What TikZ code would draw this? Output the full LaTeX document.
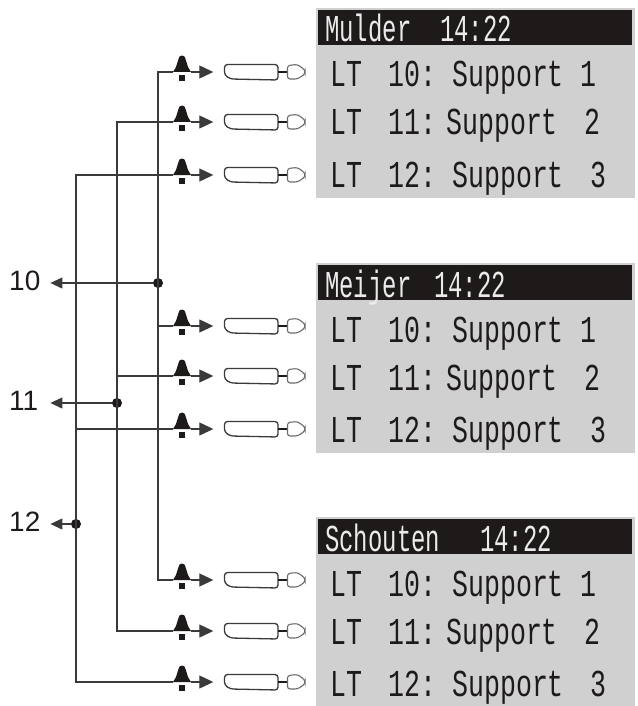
\documentclass[tikz,border=0pt]{standalone}
\usepackage{fontspec}
\setmainfont{Liberation Sans}
\newfontfamily\lcdfont[FakeStretch=0.7]{Liberation Mono}
\newfontfamily\lcdheadfont[FakeStretch=0.63]{Liberation Mono}
\usetikzlibrary{arrows.meta}
\definecolor{ink}{HTML}{3A3A3A}
\definecolor{panelgray}{HTML}{D0D0D0}
\definecolor{headblack}{HTML}{1E1A1A}
\tikzset{
  x=1pt,y=-1pt,
  wire/.style={draw=ink,line width=1.1pt},
  tipwire/.style={wire,-{Triangle[length=14pt,width=13pt]}},
  labeltipwire/.style={wire,-{Triangle[length=12pt,width=11pt]}},
  junction/.style={circle,fill=headblack,inner sep=0pt,minimum size=10pt},
  numlabel/.style={font=\fontsize{28}{28}\selectfont,text=headblack,inner sep=0pt,text width=41pt,align=left,anchor=west},
  bellnode/.style={inner sep=0pt,minimum width=18pt,minimum height=40pt,
    path picture={
      \fill[headblack] (-9pt,0pt) -- (-6pt,5pt) -- (-3.5pt,13pt) arc[start angle=180,end angle=0,radius=3.5pt] -- (6pt,5pt) -- (9pt,0pt) -- cycle;
      \fill[headblack] (-3pt,-3pt) rectangle (3pt,-9pt);
    }},
  handset/.style={inner sep=0pt,minimum width=84pt,minimum height=22pt,
    path picture={
      \draw[ink,line width=1.3pt,fill=white,rounded corners=3pt] (-40pt,7.5pt) -- (13.5pt,7.5pt) -- (13.5pt,-8pt) -- (-34pt,-7pt) -- (-40pt,-3pt) -- cycle;
      \draw[headblack,line width=2.6pt] (13.5pt,0pt) -- (23pt,0pt);
      \draw[ink!75,line width=1.1pt,fill=white,rounded corners=2.5pt] (23pt,6.5pt) -- (33pt,7.5pt) -- (40.5pt,2pt) -- (40.5pt,-2pt) -- (33pt,-7pt) -- (23pt,-7pt) -- cycle;
    }},
  panel/.style={fill=panelgray,inner sep=0pt,anchor=north west,minimum width=319pt,minimum height=190pt},
  header/.style={fill=headblack,inner sep=0pt,anchor=north west,minimum width=314pt,minimum height=35pt},
  lcd/.style={font=\lcdfont\fontsize{38}{38}\selectfont,text=headblack,inner sep=0pt,anchor=base west},
  lcdhead/.style={font=\lcdheadfont\fontsize{38}{38}\selectfont,inner sep=0pt,anchor=base west,text=white!92!black},
}
\newcommand{\callrow}[2]{%
  \node[bellnode] (b#1) at (182,#2) {};
  \node[handset] (h#1) at (264.5,#2) {};
  \draw[tipwire] (b#1.east) -- ([xshift=-9pt]h#1.west);
}
\newcommand{\panelblock}[4]{% id, top y, name, clock x
  \node[panel] (p#1) at (316,#2) {};
  \node[header] (hd#1) at (318,#2+2) {};
  \node[lcdhead] (nm#1) at (325,#2+34) {#3};
  \node[lcdhead] (ck#1) at (#4,#2+34) {14:22};
  \node[lcd] (ra#1) at (330,#2+79) {LT};
  \node[lcd] (rb#1) at (330,#2+127) {LT};
  \node[lcd] (rc#1) at (330,#2+179) {LT};
  \node[lcd] (na#1) at (388,#2+79) {10:};
  \node[lcd] (nb#1) at (388,#2+127) {11:};
  \node[lcd] (nc#1) at (388,#2+179) {12:};
  \node[lcd] (sa#1) at (452,#2+79) {Support};
  \node[lcd] (sb#1) at (446,#2+127) {Support};
  \node[lcd] (sc#1) at (452,#2+179) {Support};
  \node[lcd] (da#1) at (580,#2+79) {1};
  \node[lcd] (db#1) at (584,#2+127) {2};
  \node[lcd] (dc#1) at (590,#2+179) {3};
}
\begin{document}
\begin{tikzpicture}
\useasboundingbox (0,0) rectangle (637,706);
\panelblock{A}{8}{Mulder}{440}
\panelblock{B}{263}{Meijer}{434}
\panelblock{C}{517}{Schouten}{480}
\callrow{1}{72}
\callrow{2}{122}
\callrow{3}{175}
\callrow{4}{326}
\callrow{5}{376}
\callrow{6}{429}
\callrow{7}{580}
\callrow{8}{631}
\callrow{9}{682}
\node[junction] (j10) at (158,283) {};
\node[junction] (j11) at (117,403) {};
\node[junction] (j12) at (76,524) {};
\node[numlabel] (l10) at (9,281) {10};
\node[numlabel] (l11) at (9,401) {11};
\node[numlabel] (l12) at (9,522) {12};
\draw[wire] (b1.west) -| (j10.center) |- (b7.west);
\draw[wire] (b2.west) -| (j11.center) |- (b8.west);
\draw[wire] (b3.west) -| (j12.center) |- (b9.west);
\draw[wire] (b4.west) -- (b4.west -| j10);
\draw[wire] (b5.west) -- (b5.west -| j11);
\draw[wire] (b6.west) -- (b6.west -| j12);
\draw[labeltipwire] (j10) -- (l10.east |- j10);
\draw[labeltipwire] (j11) -- (l11.east |- j11);
\draw[labeltipwire] (j12) -- (l12.east |- j12);
\end{tikzpicture}
\end{document}
